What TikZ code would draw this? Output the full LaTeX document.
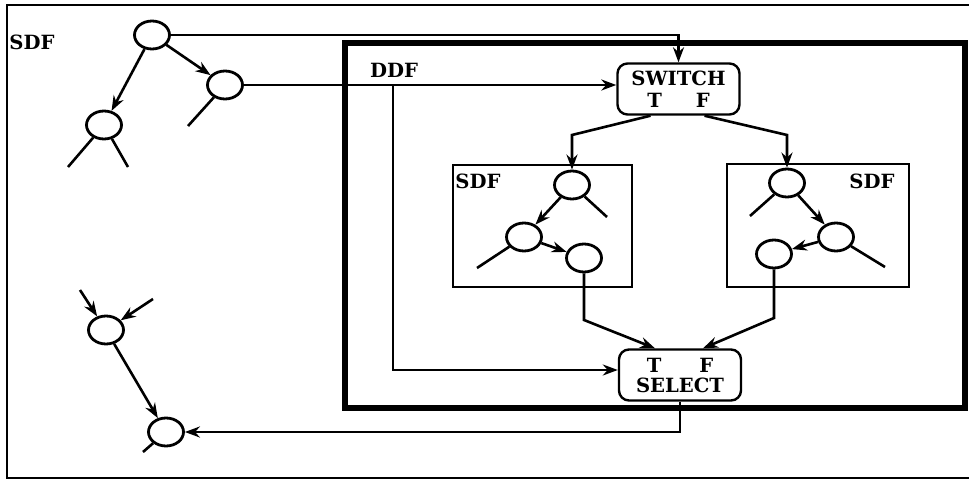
\documentclass[tikz,border=0pt]{standalone}
\usepackage{fontspec}
\setmainfont{DejaVu Serif}
\usetikzlibrary{shapes.geometric,arrows.meta}
\begin{document}
\begin{tikzpicture}[x=0.5pt,y=-0.5pt,
  every node/.style={font=\fontsize{9.8}{11}\selectfont\bfseries},
  actor/.style={draw,ellipse,line width=1.4pt,minimum width=17.5pt,minimum height=14pt,inner sep=0pt},
  ctrl/.style={draw,rounded corners=5pt,line width=1.2pt,minimum width=61pt,minimum height=25.5pt,inner sep=0pt,align=center},
  arr/.style={line width=1.3pt,-{Stealth[length=7.5pt,width=5.5pt]}},
  stub/.style={line width=1.3pt},
  lbl/.style={inner sep=0pt}]
\useasboundingbox (0,0) rectangle (969,481);
% outer SDF frame (right side lies beyond the picture)
\draw[line width=1pt] (969,5) -- (7,5) -- (7,478) -- (969,478);
\node[lbl,anchor=west] (sdfo) at (9,42) {SDF};
% DDF thick frame
\draw[line width=2.6pt] (345,43) rectangle (965,408);
\node[lbl] (ddf) at (394,70) {DDF};
% inner SDF boxes
\draw[line width=1.3pt] (453,165) rectangle (632,287);
\node[lbl,anchor=west] (sdfl) at (455,181) {SDF};
\draw[line width=1.3pt] (727,164) rectangle (909,287);
\node[lbl] (sdfr) at (872,181) {SDF};
% control actors
\node[ctrl] (SW) at (678.5,89) {SWITCH\\T\hspace{17pt}F};
\node[ctrl] (SE) at (680,375) {T\hspace{19pt}F\\[-1pt]SELECT};
% outer actors
\node[actor] (T1) at (152,35) {};
\node[actor] (T2) at (225,85) {};
\node[actor] (T3) at (104,125) {};
\node[actor] (H) at (106,330) {};
\node[actor] (G) at (166,432) {};
% left inner actors
\node[actor] (A) at (572,185) {};
\node[actor] (B) at (524,237) {};
\node[actor] (C) at (584,258) {};
% right inner actors
\node[actor] (D) at (787,183) {};
\node[actor] (E) at (836,237) {};
\node[actor] (F) at (774,254) {};
% free ends
\coordinate (t3a) at (68,167);
\coordinate (t3b) at (128,167);
\coordinate (t2a) at (188,126);
\coordinate (aa) at (607,217);
\coordinate (ba) at (477,268);
\coordinate (da) at (750,216);
\coordinate (ea) at (885,267);
\coordinate (ga) at (143,452);
\coordinate (h1) at (80,290);
\coordinate (h2) at (153,299);
% bends
\coordinate (ddfj) at (393,85);
\coordinate (bendL) at (572,135);
\coordinate (bendR) at (787,135);
\coordinate (downC) at (584,320);
\coordinate (downF) at (774,318);
% stubs
\draw[stub] (T3) -- (t3a);
\draw[stub] (T3) -- (t3b);
\draw[stub] (T2) -- (t2a);
\draw[stub] (A) -- (aa);
\draw[stub] (B) -- (ba);
\draw[stub] (D) -- (da);
\draw[stub] (E) -- (ea);
\draw[stub] (G) -- (ga);
% arrows among actors
\draw[arr] (T1) -- (T2);
\draw[arr] (T1) -- (T3);
\draw[arr] (A) -- (B);
\draw[arr] (B) -- (C);
\draw[arr] (D) -- (E);
\draw[arr] (E) -- (F);
\draw[arr] (H) -- (G);
\draw[arr] (h1) -- (H);
\draw[arr] (h2) -- (H);
% connections to the DDF part
\draw[arr] (T1.east) -| (SW.north);
\draw[arr] (T2.east) -- (T2.east -| SW.west);
\draw[arr] (ddfj) |- ([yshift=2.5pt]SE.west);
\draw[arr] ([xshift=-14pt]SW.south) -- (bendL) -- (A.north);
\draw[arr] ([xshift=13pt]SW.south) -- (bendR) -- (D.north);
\draw[arr] (C.south) -- (downC) -- ([xshift=-12.5pt]SE.north);
\draw[arr] (F.south) -- (downF) -- ([xshift=11.5pt]SE.north);
\draw[arr] (SE.south) |- (G.east);
\end{tikzpicture}
\end{document}
